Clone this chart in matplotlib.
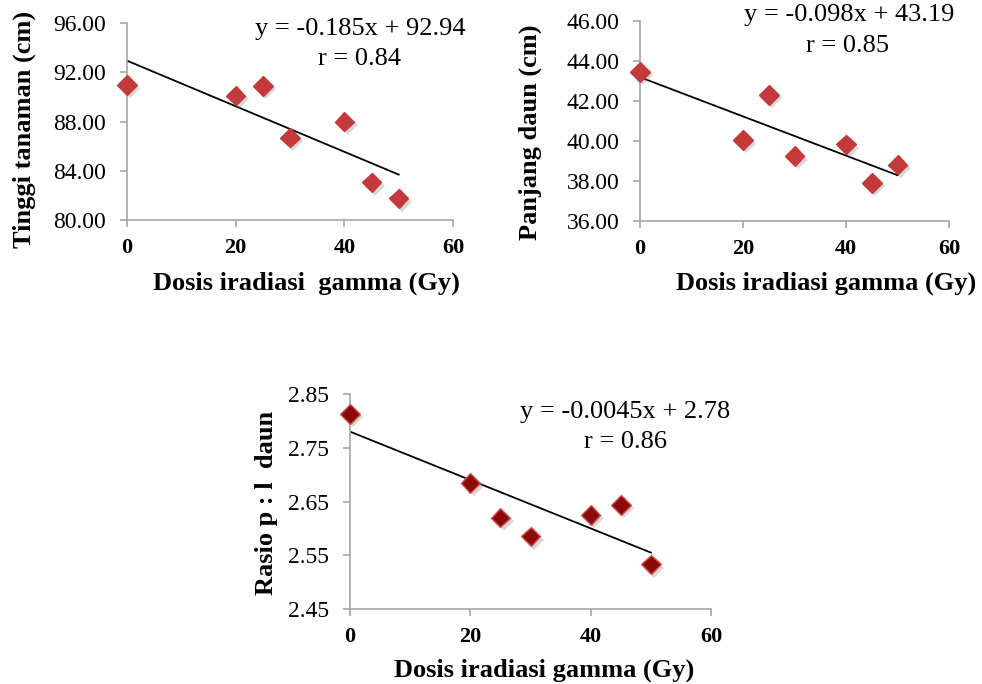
import numpy as np
import matplotlib
matplotlib.use("Agg")
import matplotlib.pyplot as plt
import matplotlib.patheffects as pe

plt.rcParams['font.family'] = ['Liberation Serif', 'DejaVu Serif']

dosis = [0, 20, 25, 30, 40, 45, 50]

tinggi = [90.96, 90.10, 90.90, 86.70, 88.00, 83.06, 81.75]
panjang = [43.46, 40.04, 42.31, 39.24, 39.83, 37.90, 38.82]
rasio = [2.813, 2.685, 2.620, 2.585, 2.625, 2.644, 2.533]

# trend line coefficients as printed on the chart
fit1 = (-0.185, 92.94)
fit2 = (-0.098, 43.19)
fit3 = (-0.0045, 2.78)

eq1 = ["y = -0.185x + 92.94", "r = 0.84"]
eq2 = ["y = -0.098x + 43.19", "r = 0.85"]
eq3 = ["y = -0.0045x + 2.78", "r = 0.86"]

W, H = 982, 684
fig = plt.figure(figsize=(W / 100, H / 100), dpi=100)


def px(x, y):
    return x / W, 1 - y / H


def make_axes(left, right, top, bottom):
    return fig.add_axes([left / W, 1 - bottom / H, (right - left) / W, (bottom - top) / H])


def style(ax, yticks, fmt):
    ax.set_xlim(0, 60)
    ax.set_xticks([0, 20, 40, 60])
    ax.set_ylim(yticks[0], yticks[-1])
    ax.set_yticks(yticks)
    ax.set_yticklabels([fmt % v for v in yticks])
    for s in ['top', 'right']:
        ax.spines[s].set_visible(False)
    for s in ['left', 'bottom']:
        ax.spines[s].set_color('#A6A6A6')
        ax.spines[s].set_linewidth(1.2)
    ax.tick_params(axis='both', direction='out', color='#A6A6A6', length=5, width=1.2)
    ax.tick_params(axis='y', labelsize=17, pad=10)
    ax.tick_params(axis='x', labelsize=16, pad=8)
    for lab in ax.get_xticklabels():
        lab.set_fontweight('bold')


def draw(ax, y, fit, face, edge):
    shadow = [pe.SimplePatchShadow(offset=(2.5, -2.5), shadow_rgbFace='#808080', alpha=0.3), pe.Normal()]
    ax.plot(dosis, y, linestyle='none', marker='D', markersize=10,
            markerfacecolor=face, markeredgecolor=edge, markeredgewidth=1.0,
            path_effects=shadow, zorder=3, clip_on=False)
    xs = np.array([dosis[0], dosis[-1]])
    ax.plot(xs, fit[1] + fit[0] * xs, color='black', linewidth=1.3, zorder=2)


# chart 1
ax1 = make_axes(127, 453, 23, 220)
style(ax1, [80, 84, 88, 92, 96], '%.2f')
draw(ax1, tinggi, fit1, '#C43A3A', '#C43A3A')
fig.text(*px(360, 29), eq1[0], fontsize=19, ha='center', va='center')
fig.text(*px(360, 59), eq1[1], fontsize=19, ha='center', va='center')
fig.text(*px(306, 283), "Dosis iradiasi  gamma (Gy)", fontsize=19, fontweight='bold', ha='center', va='center')
fig.text(*px(24, 129), "Tinggi tanaman (cm)", fontsize=19, fontweight='bold', rotation=90, ha='center', va='center')

# chart 2
ax2 = make_axes(640, 949, 21, 221)
style(ax2, [36, 38, 40, 42, 44, 46], '%.2f')
draw(ax2, panjang, fit2, '#C43A3A', '#C43A3A')
fig.text(*px(849, 15), eq2[0], fontsize=19, ha='center', va='center')
fig.text(*px(848, 46), eq2[1], fontsize=19, ha='center', va='center')
fig.text(*px(826, 283), "Dosis iradiasi gamma (Gy)", fontsize=19, fontweight='bold', ha='center', va='center')
fig.text(*px(530, 132), "Panjang daun (cm)", fontsize=19, fontweight='bold', rotation=90, ha='center', va='center')

# chart 3
ax3 = make_axes(350, 711, 394, 609)
style(ax3, [2.45, 2.55, 2.65, 2.75, 2.85], '%.2f')
draw(ax3, rasio, fit3, '#8B0A0A', '#D45050')
fig.text(*px(625, 412), eq3[0], fontsize=19, ha='center', va='center')
fig.text(*px(625, 442), eq3[1], fontsize=19, ha='center', va='center')
fig.text(*px(544, 670), "Dosis iradiasi gamma (Gy)", fontsize=19, fontweight='bold', ha='center', va='center')
fig.text(*px(267, 503), "Rasio p : l  daun", fontsize=19, fontweight='bold', rotation=90, ha='center', va='center')

fig.savefig("out.png", dpi=100, facecolor='white')
